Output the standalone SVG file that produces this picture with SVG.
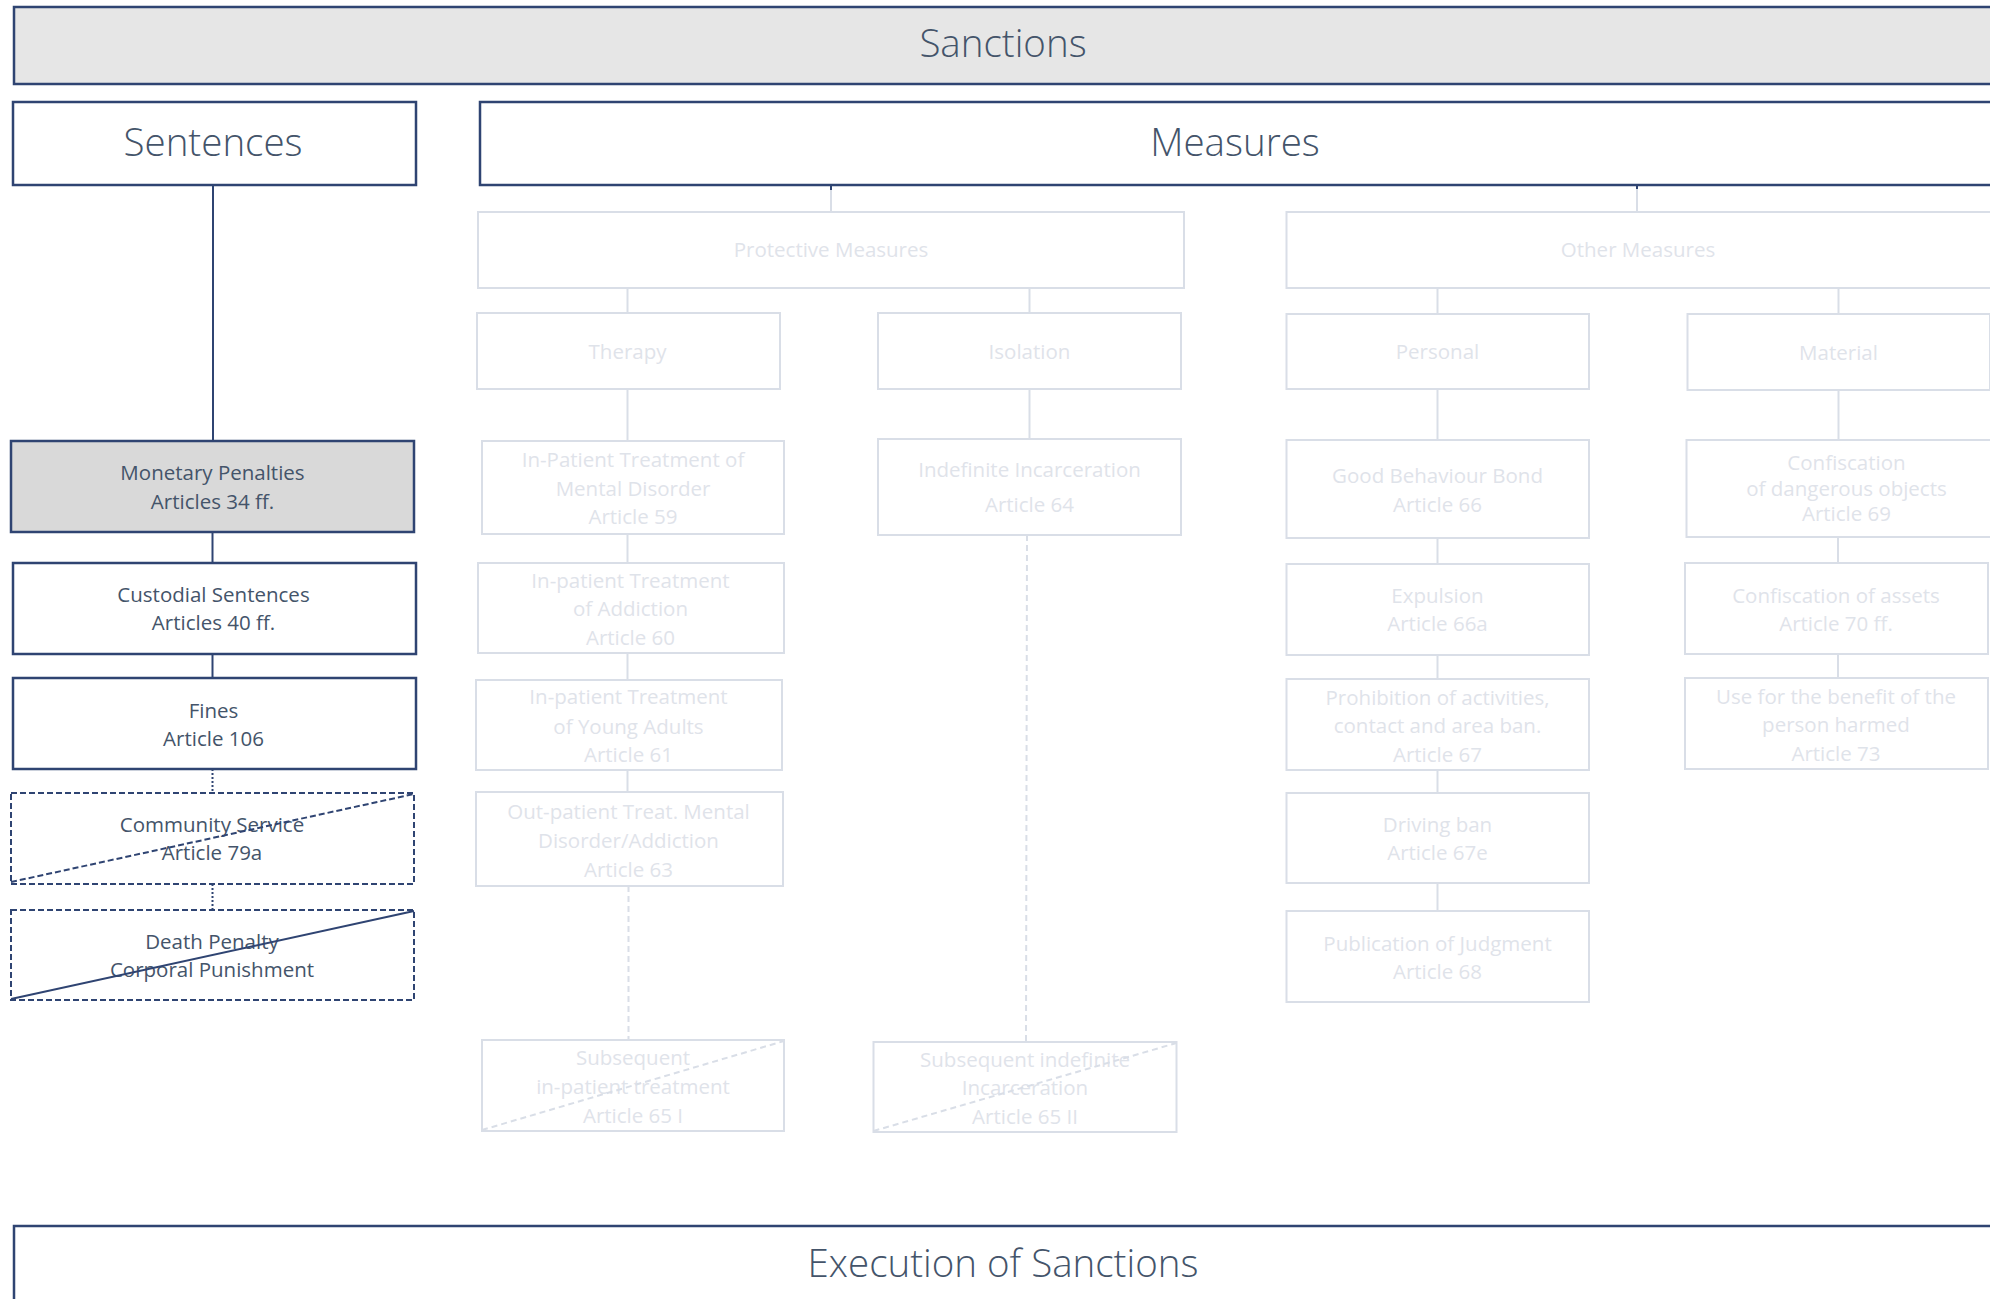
<svg xmlns="http://www.w3.org/2000/svg" width="1990" height="1299" viewBox="0 0 1990 1299">
<style>
.dk{fill:#fff;stroke:#2f4472;stroke-width:2.5}
.dkd{fill:#fff;stroke:#2f4472;stroke-width:2;stroke-dasharray:6 3}
.lt{fill:#fff;stroke:#d9dee7;stroke-width:2}
.c{fill:none;stroke:#2f4472;stroke-width:2}
.cd{fill:none;stroke:#2f4472;stroke-width:2;stroke-dasharray:2 2}
.cl{fill:none;stroke:#d9dee7;stroke-width:2}
.cld{fill:none;stroke:#d9dee7;stroke-width:2;stroke-dasharray:6 4}
text{font-family:"Open Sans","Noto Sans","Liberation Sans",sans-serif;text-anchor:middle}
.t{font-size:20.5px;fill:#44546a}
.tl{font-size:20.5px;fill:#dfe3ea}
.big{font-size:38.5px;fill:#44546a;font-weight:300}
</style>
<g id="connectors">
<line class="c" x1="213" y1="185" x2="213" y2="441"/>
<line class="c" x1="212.5" y1="532" x2="212.5" y2="563"/>
<line class="c" x1="212.5" y1="654" x2="212.5" y2="678"/>
<line class="cd" x1="212.5" y1="769" x2="212.5" y2="793"/>
<line class="cd" x1="212.5" y1="884" x2="212.5" y2="910"/>
<line class="cl" x1="831" y1="185" x2="831" y2="212"/>
<line class="c" x1="831" y1="185" x2="831" y2="190"/>
<line class="cl" x1="627.5" y1="288" x2="627.5" y2="313"/>
<line class="cl" x1="1029.5" y1="288" x2="1029.5" y2="313"/>
<line class="cl" x1="627.5" y1="389" x2="627.5" y2="441"/>
<line class="cl" x1="1029.5" y1="389" x2="1029.5" y2="439"/>
<line class="cl" x1="627.5" y1="534" x2="627.5" y2="563"/>
<line class="cl" x1="627.5" y1="653" x2="627.5" y2="680"/>
<line class="cl" x1="627.5" y1="770" x2="627.5" y2="792"/>
<line class="cld" x1="628.5" y1="886" x2="628.5" y2="1040"/>
<line class="cld" x1="1027" y1="535" x2="1026" y2="1042"/>
<line class="cl" x1="1637" y1="185" x2="1637" y2="212"/>
<line class="c" x1="1637" y1="185" x2="1637" y2="189"/>
<line class="cl" x1="1437.5" y1="288" x2="1437.5" y2="314"/>
<line class="cl" x1="1838.5" y1="288" x2="1838.5" y2="314"/>
<line class="cl" x1="1437.5" y1="389" x2="1437.5" y2="440"/>
<line class="cl" x1="1437.5" y1="538" x2="1437.5" y2="564"/>
<line class="cl" x1="1437.5" y1="655" x2="1437.5" y2="679"/>
<line class="cl" x1="1437.5" y1="770" x2="1437.5" y2="793"/>
<line class="cl" x1="1437.5" y1="883" x2="1437.5" y2="911"/>
<line class="cl" x1="1838.5" y1="390" x2="1838.5" y2="440"/>
<line class="cl" x1="1838" y1="537" x2="1838" y2="563"/>
<line class="cl" x1="1838" y1="654" x2="1838" y2="678"/>
</g>
<g id="sanctions"><rect class="dk" x="14" y="7" width="1980" height="77" style="fill:#e6e6e6"/><text class="big" x="1003" y="57">Sanctions</text></g>
<g id="sentences"><rect class="dk" x="13" y="102" width="403" height="83"/><text class="big" x="213" y="156">Sentences</text></g>
<g id="measures"><rect class="dk" x="480" y="102" width="1514" height="83"/><text class="big" x="1235" y="156">Measures</text></g>
<g id="execution"><rect class="dk" x="14" y="1226" width="1980" height="90"/><text class="big" x="1003" y="1277">Execution of Sanctions</text></g>

<g id="monetary"><rect class="dk" x="11" y="441" width="403" height="91" style="fill:#d9d9d9"/><text class="t" x="212.5" y="480">Monetary Penalties</text><text class="t" x="212.5" y="509">Articles 34 ff.</text></g>
<g id="custodial"><rect class="dk" x="13" y="563" width="403" height="91"/><text class="t" x="213.5" y="602">Custodial Sentences</text><text class="t" x="213.5" y="630">Articles 40 ff.</text></g>
<g id="fines"><rect class="dk" x="13" y="678" width="403" height="91"/><text class="t" x="213.5" y="718">Fines</text><text class="t" x="213.5" y="746">Article 106</text></g>
<g id="community"><rect class="dkd" x="11" y="793" width="403" height="91"/><text class="t" x="212" y="832">Community Service</text><text class="t" x="212" y="860">Article 79a</text><line class="cd" x1="11" y1="882" x2="414" y2="794" style="stroke-dasharray:6 3"/></g>
<g id="death"><rect class="dkd" x="11" y="910" width="403" height="90"/><text class="t" x="212" y="949">Death Penalty</text><text class="t" x="212" y="977">Corporal Punishment</text><line class="c" x1="11" y1="999" x2="414" y2="911"/></g>

<g id="protective"><rect class="lt" x="478" y="212" width="706" height="76"/><text class="tl" x="831" y="257">Protective Measures</text></g>
<g id="therapy"><rect class="lt" x="477" y="313" width="303" height="76"/><text class="tl" x="627.5" y="359">Therapy</text></g>
<g id="isolation"><rect class="lt" x="878" y="313" width="303" height="76"/><text class="tl" x="1029.5" y="359">Isolation</text></g>
<g id="art59"><rect class="lt" x="482" y="441" width="302" height="93"/><text class="tl" x="633" y="466.5">In-Patient Treatment of</text><text class="tl" x="633" y="495.5">Mental Disorder</text><text class="tl" x="633" y="524">Article 59</text></g>
<g id="art64"><rect class="lt" x="878" y="439" width="303" height="96"/><text class="tl" x="1029.5" y="476.5">Indefinite Incarceration</text><text class="tl" x="1029.5" y="512">Article 64</text></g>
<g id="art60"><rect class="lt" x="478" y="563" width="306" height="90"/><text class="tl" x="630.5" y="588">In-patient Treatment</text><text class="tl" x="630.5" y="616">of Addiction</text><text class="tl" x="630.5" y="645">Article 60</text></g>
<g id="art61"><rect class="lt" x="476" y="680" width="306" height="90"/><text class="tl" x="628.5" y="704">In-patient Treatment</text><text class="tl" x="628.5" y="733.5">of Young Adults</text><text class="tl" x="628.5" y="762">Article 61</text></g>
<g id="art63"><rect class="lt" x="476" y="792" width="307" height="94"/><text class="tl" x="628.5" y="819">Out-patient Treat. Mental</text><text class="tl" x="628.5" y="848">Disorder/Addiction</text><text class="tl" x="628.5" y="877">Article 63</text></g>
<g id="art65i"><rect class="lt" x="482" y="1040" width="302" height="91"/><text class="tl" x="633" y="1065">Subsequent</text><text class="tl" x="633" y="1094">in-patient treatment</text><text class="tl" x="633" y="1123">Article 65 I</text><line class="cld" x1="482" y1="1130" x2="784" y2="1041"/></g>
<g id="art65ii"><rect class="lt" x="873.5" y="1042" width="303" height="90"/><text class="tl" x="1025" y="1066.5">Subsequent indefinite</text><text class="tl" x="1025" y="1095">Incarceration</text><text class="tl" x="1025" y="1124">Article 65 II</text><line class="cld" x1="873.5" y1="1131" x2="1176.5" y2="1043"/></g>

<g id="other"><rect class="lt" x="1286.5" y="212" width="710" height="76"/><text class="tl" x="1638" y="257">Other Measures</text></g>
<g id="personal"><rect class="lt" x="1286.5" y="314" width="302.5" height="75"/><text class="tl" x="1437.5" y="359">Personal</text></g>
<g id="material"><rect class="lt" x="1687.5" y="314" width="302.5" height="76"/><text class="tl" x="1838.5" y="359.5">Material</text></g>
<g id="art66"><rect class="lt" x="1286.5" y="440" width="302.5" height="98"/><text class="tl" x="1437.5" y="483">Good Behaviour Bond</text><text class="tl" x="1437.5" y="512">Article 66</text></g>
<g id="art66a"><rect class="lt" x="1286.5" y="564" width="302.5" height="91"/><text class="tl" x="1437.5" y="603">Expulsion</text><text class="tl" x="1437.5" y="631">Article 66a</text></g>
<g id="art67"><rect class="lt" x="1286.5" y="679" width="302.5" height="91"/><text class="tl" x="1437.5" y="704.5">Prohibition of activities,</text><text class="tl" x="1437.5" y="733">contact and area ban.</text><text class="tl" x="1437.5" y="762">Article 67</text></g>
<g id="art67e"><rect class="lt" x="1286.5" y="793" width="302.5" height="90"/><text class="tl" x="1437.5" y="832">Driving ban</text><text class="tl" x="1437.5" y="860">Article 67e</text></g>
<g id="art68"><rect class="lt" x="1286.5" y="911" width="302.5" height="91"/><text class="tl" x="1437.5" y="950.5">Publication of Judgment</text><text class="tl" x="1437.5" y="979">Article 68</text></g>
<g id="art69"><rect class="lt" x="1686.5" y="440" width="305" height="97"/><text class="tl" x="1846.5" y="470">Confiscation</text><text class="tl" x="1846.5" y="495.5">of dangerous objects</text><text class="tl" x="1846.5" y="520.5">Article 69</text></g>
<g id="art70"><rect class="lt" x="1685" y="563" width="303" height="91"/><text class="tl" x="1836" y="602.5">Confiscation of assets</text><text class="tl" x="1836" y="631">Article 70 ff.</text></g>
<g id="art73"><rect class="lt" x="1685" y="678" width="303" height="91"/><text class="tl" x="1836" y="703.5">Use for the benefit of the</text><text class="tl" x="1836" y="732">person harmed</text><text class="tl" x="1836" y="760.5">Article 73</text></g>
</svg>
